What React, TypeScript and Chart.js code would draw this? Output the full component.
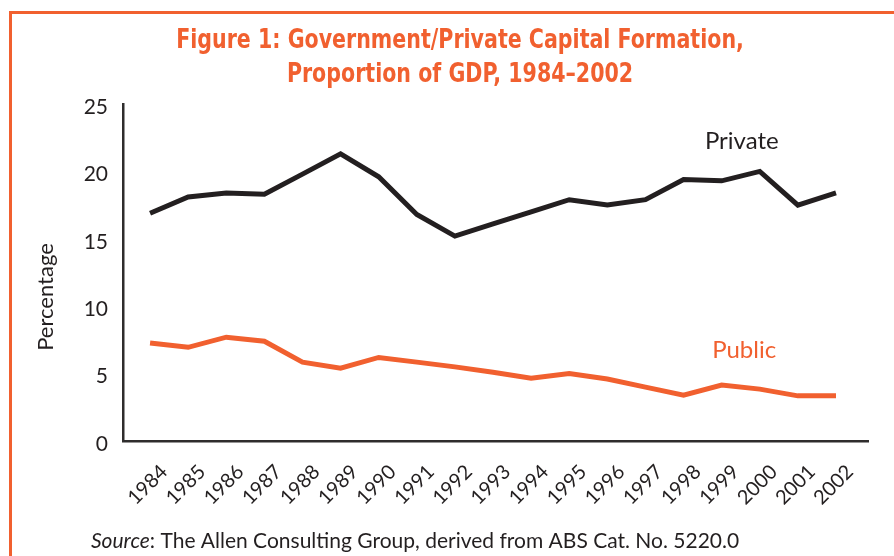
import React, { useEffect, useRef } from "react";
import { Chart, registerables } from "chart.js";

Chart.register(...registerables);

const years: number[] = [1984, 1985, 1986, 1987, 1988, 1989, 1990, 1991, 1992, 1993, 1994, 1995, 1996, 1997, 1998, 1999, 2000, 2001, 2002];
const privateValues: number[] = [16.9, 18.1, 18.4, 18.3, 19.8, 21.3, 19.6, 16.8, 15.2, 16.1, 17.0, 17.9, 17.5, 17.9, 19.4, 19.3, 20.0, 17.5, 18.4];
const publicValues: number[] = [7.27, 6.95, 7.7, 7.4, 5.85, 5.4, 6.2, 5.85, 5.5, 5.1, 4.65, 5.0, 4.6, 4.0, 3.4, 4.15, 3.85, 3.35, 3.35];
const yTicks: number[] = [0, 5, 10, 15, 20, 25];

const titleLines: string[] = ["Figure 1: Government/Private Capital Formation,", "Proportion of GDP, 1984\u20132002"];
const sourceItalic = "Source";
const sourceRest = ": The Allen Consulting Group, derived from ABS Cat. No. 5220.0";
const yAxisTitle = "Percentage";
const seriesNames: string[] = ["Private", "Public"];
// label anchor in data units (year, value)
const seriesLabelAt: [number, number][] = [[1998.56, 22.25], [1998.75, 6.75]];

const ORANGE = "#F1602F";
const INK = "#231F20";
const AXIS = "#2f2d2d";
const BODY_FONT = "Lato, 'Open Sans', sans-serif";
const TITLE_FONT = "'Liberation Sans Narrow', 'DejaVu Sans Condensed', 'Liberation Sans', sans-serif";

const decorPlugin = {
  id: "decor",
  afterDraw(chart: any) {
    const ctx = chart.ctx as CanvasRenderingContext2D;
    ctx.save();
    // frame
    ctx.strokeStyle = ORANGE;
    ctx.lineWidth = 3;
    ctx.beginPath();
    ctx.moveTo(10.5, 556);
    ctx.lineTo(10.5, 12.5);
    ctx.lineTo(894, 12.5);
    ctx.stroke();
    // title (condensed horizontally)
    ctx.fillStyle = ORANGE;
    ctx.font = `bold 26px ${TITLE_FONT}`;
    ctx.textAlign = "center";
    ctx.textBaseline = "alphabetic";
    const baselines = [48, 81.5];
    titleLines.forEach((line, i) => {
      ctx.save();
      ctx.translate(460, baselines[i]);
      ctx.scale(0.88, 1);
      ctx.fillText(line, 0, 0);
      ctx.restore();
    });
    // y axis title
    ctx.fillStyle = INK;
    ctx.save();
    ctx.translate(53, 297);
    ctx.rotate(-Math.PI / 2);
    ctx.font = `22px ${BODY_FONT}`;
    ctx.textAlign = "center";
    ctx.fillText(yAxisTitle, 0, 0);
    ctx.restore();
    // source
    ctx.textAlign = "left";
    ctx.font = `italic 21px ${BODY_FONT}`;
    ctx.fillText(sourceItalic, 91, 548);
    const w = ctx.measureText(sourceItalic).width;
    ctx.font = `21px ${BODY_FONT}`;
    ctx.fillText(sourceRest, 91 + w, 548);
    // series labels
    const xs = chart.scales.x;
    const ys = chart.scales.y;
    ctx.font = `24px ${BODY_FONT}`;
    ctx.textBaseline = "middle";
    seriesNames.forEach((name, i) => {
      ctx.fillStyle = i === 0 ? INK : ORANGE;
      const [xv, yv] = seriesLabelAt[i];
      ctx.fillText(name, xs.getPixelForValue(xv), ys.getPixelForValue(yv));
    });
    ctx.restore();
  },
};

export default function App() {
  const ref = useRef<HTMLCanvasElement | null>(null);
  useEffect(() => {
    if (!ref.current) return;
    const chart = new Chart(ref.current, {
      type: "line",
      data: {
        datasets: [
          {
            label: seriesNames[0],
            data: years.map((y, i) => ({ x: y, y: privateValues[i] })),
            borderColor: INK,
            borderWidth: 5,
            pointRadius: 0,
            tension: 0,
          },
          {
            label: seriesNames[1],
            data: years.map((y, i) => ({ x: y, y: publicValues[i] })),
            borderColor: ORANGE,
            borderWidth: 5,
            pointRadius: 0,
            tension: 0,
          },
        ],
      },
      options: {
        animation: false,
        responsive: false,
        devicePixelRatio: 1,
        layout: { padding: { left: 35, right: 26, top: 104, bottom: 35 } },
        plugins: { legend: { display: false }, tooltip: { enabled: false }, title: { display: false } },
        scales: {
          x: {
            type: "linear",
            min: 1983.29,
            max: 2002.84,
            afterBuildTicks: (scale: any) => {
              scale.ticks = years.map((v) => ({ value: v }));
            },
            afterFit: (scale: any) => {
              scale.height = 80;
            },
            grid: { display: false, drawTicks: false },
            border: { display: true, color: AXIS, width: 2.5 },
            ticks: {
              autoSkip: false,
              minRotation: 45,
              maxRotation: 45,
              padding: 19,
              labelOffset: 14,
              color: INK,
              font: { family: BODY_FONT, size: 20 },
              callback: (v: any) => String(v),
            },
          },
          y: {
            min: 0,
            max: 25,
            afterBuildTicks: (scale: any) => {
              scale.ticks = yTicks.map((v) => ({ value: v }));
            },
            afterFit: (scale: any) => {
              scale.width = 88;
            },
            grid: { display: false, drawTicks: false },
            border: { display: true, color: AXIS, width: 2.5 },
            ticks: {
              padding: 15,
              color: INK,
              font: { family: BODY_FONT, size: 21 },
              labelOffset: 3,
            },
            title: { display: false },
          },
        },
      },
      plugins: [decorPlugin],
    });
    return () => chart.destroy();
  }, []);
  return (
    <div style={{ position: "absolute", left: 0, top: 0, width: 894, height: 556, background: "#fff" }}>
      <canvas ref={ref} width={894} height={556} style={{ display: "block" }} />
    </div>
  );
}
